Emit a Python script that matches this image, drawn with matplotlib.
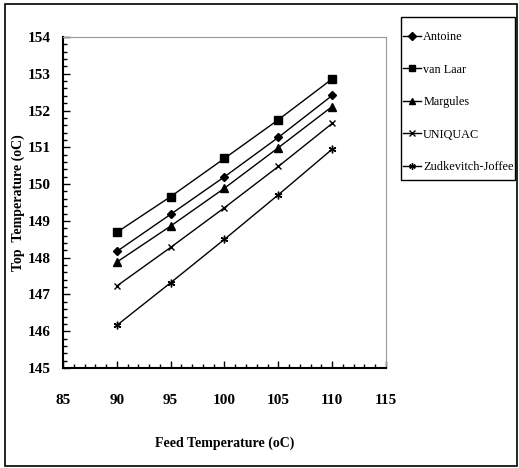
import matplotlib.pyplot as plt
from matplotlib.ticker import MultipleLocator
from matplotlib.patches import Rectangle

# Feed temperature (oC)
feed_temp = [90, 95, 100, 105, 110]

# Top temperature (oC) for each model
antoine = [148.17, 149.18, 150.20, 151.27, 152.41]
van_laar = [148.69, 149.66, 150.70, 151.75, 152.86]
margules = [147.88, 148.86, 149.89, 150.99, 152.11]
uniquac = [147.23, 148.28, 149.36, 150.48, 151.65]
zudkevitch = [146.16, 147.32, 148.50, 149.71, 150.95]

series_names = ["Antoine", "van Laar", "Margules", "UNIQUAC", "Zudkevitch-Joffee"]
series_values = [antoine, van_laar, margules, uniquac, zudkevitch]
series_markers = ["D", "s", "^", "x", (6, 2, 0)]
series_sizes = [4.5, 5.5, 5.5, 5, 5.5]

x_ticks = [85, 90, 95, 100, 105, 110, 115]
y_ticks = [145, 146, 147, 148, 149, 150, 151, 152, 153, 154]

plt.rcParams['font.family'] = ['Liberation Serif', 'DejaVu Serif']
plt.rcParams['font.weight'] = 'bold'

fig = plt.figure(figsize=(5.19, 4.68), dpi=100)

# outer frame around the whole chart
fig.patches.append(Rectangle((5 / 519, 1 - 466 / 468), 512 / 519, 462 / 468,
                             transform=fig.transFigure, fill=False,
                             edgecolor='black', linewidth=1.2))
# legend frame
fig.patches.append(Rectangle((401 / 519, 1 - 180 / 468), 114 / 519, 163 / 468,
                             transform=fig.transFigure, fill=False,
                             edgecolor='black', linewidth=1.0))

ax = fig.add_axes([63 / 519, 1 - 368 / 468, 323 / 519, 331 / 468])

handles = []
for name, vals, mk, ms in zip(series_names, series_values, series_markers, series_sizes):
    h, = ax.plot(feed_temp, vals, color='black', linewidth=1.0, marker=mk,
                 markersize=ms, markerfacecolor='black', markeredgecolor='black',
                 markeredgewidth=1.0, label=name)
    handles.append(h)

ax.set_xlim(85, 115)
ax.set_ylim(145, 154)
ax.set_xticks(x_ticks)
ax.set_yticks(y_ticks)
ax.xaxis.set_minor_locator(MultipleLocator(1))
ax.yaxis.set_minor_locator(MultipleLocator(0.2))
ax.tick_params(axis='both', which='major', direction='in', length=5, width=1,
               labelsize=11)
ax.tick_params(axis='both', which='minor', direction='in', length=3, width=1)
ax.tick_params(axis='y', pad=9)
ax.tick_params(axis='x', pad=19)

for lbl in ax.get_xticklabels() + ax.get_yticklabels():
    lbl.set_fontweight('bold')

ax.spines['left'].set_linewidth(1.5)
ax.spines['bottom'].set_linewidth(1.5)
ax.spines['top'].set_color('#999999')
ax.spines['right'].set_color('#999999')

ax.set_xlabel('Feed Temperature (oC)', fontsize=10, fontweight='bold', labelpad=21)
ax.set_ylabel('Top  Temperature (oC)', fontsize=10, fontweight='bold', labelpad=2)

leg = fig.legend(handles=handles, loc='upper left',
                 bbox_to_anchor=(403 / 519, 1 - 31 / 468),
                 frameon=False, fontsize=8.8, handlelength=1.5, handletextpad=0.15,
                 labelspacing=1.68, borderpad=0.0, borderaxespad=0,
                 markerscale=0.85)
for t in leg.get_texts():
    t.set_fontweight('normal')

plt.savefig('out.png', dpi=100)
plt.close()
